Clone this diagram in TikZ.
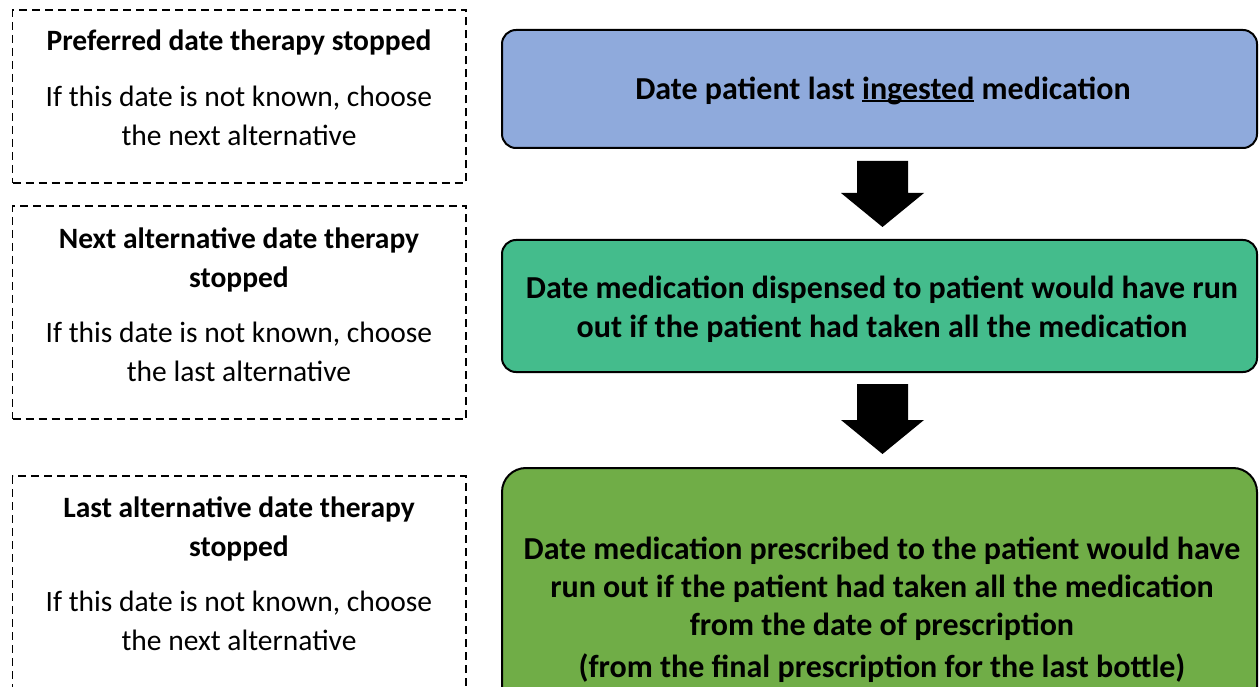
\documentclass[tikz,border=0pt]{standalone}
\usepackage{fontspec}
\setmainfont{Carlito}
\usetikzlibrary{calc}
\definecolor{boxblue}{HTML}{8FAADC}
\definecolor{boxteal}{HTML}{44BC8C}
\definecolor{boxgreen}{HTML}{70AD47}
\newcommand\blockarrow[2]{%
  \fill ($(#1)+(-25.5,0)$) -- ($(#1)+(25.5,0)$) -- ($(#2)+(25.5,-34)$) -- ($(#2)+(41.5,-34)$)
    -- (#2) -- ($(#2)+(-41.5,-34)$) -- ($(#2)+(-25.5,-34)$) -- cycle;}
\newcommand\myul[1]{\setbox0\hbox{#1}\rlap{\rule[-2.6pt]{\wd0}{1.8pt}}#1}
\begin{document}
\begin{tikzpicture}[x=1pt,y=-1pt,
  dbox/.style={draw=black, line width=1.6pt, dash pattern=on 8pt off 5pt,
    minimum width=453.5pt, inner sep=0pt},
  rbox/.style={draw=black, line width=2pt, rounded corners=14pt,
    minimum width=755pt, inner sep=0pt},
  ltext/.style={align=center, inner sep=0pt, font=\fontsize{29.5}{39}\selectfont},
  rtext/.style={align=center, inner sep=0pt, font=\bfseries\fontsize{32}{39}\selectfont},
]
\useasboundingbox (0,0) rectangle (1259,687);
\clip (0,0) rectangle (1259,687);
% left dashed boxes
\node[dbox, minimum height=173pt] (l1) at (239.25,96.5) {};
\node[dbox, minimum height=213pt] (l2) at (239.25,312.5) {};
\node[dbox, minimum height=224pt] (l3) at (239.25,588) {};
\node[ltext] (t1) at (239,87.5) {\textbf{Preferred date therapy stopped}\\[17pt]If this date is not known, choose\\the next alternative};
\node[ltext] (t2) at (239,304.5) {\textbf{Next alternative date therapy}\\\textbf{stopped}\\[16pt]If this date is not known, choose\\the last alternative};
\node[ltext] (t3) at (239,573.5) {\textbf{Last alternative date therapy}\\\textbf{stopped}\\[16pt]If this date is not known, choose\\the next alternative};
% right boxes
\node[rbox, fill=boxblue, minimum height=118pt] (A) at (879.5,89) {};
\node[rbox, fill=boxteal, minimum height=132pt] (B) at (879.5,306) {};
\node[rbox, fill=boxgreen, minimum height=252pt, rounded corners=24pt] (C) at (879.5,594) {};
\node[rtext] (tA) at (883,91) {Date patient last \myul{ingested} medication};
\node[rtext] (tB) at (882,309.5) {Date medication dispensed to patient would have run\\out if the patient had taken all the medication};
\node[rtext, font=\bfseries\fontsize{32}{38}\selectfont] (tC) at (882,609.5) {Date medication prescribed to the patient would have\\run out if the patient had taken all the medication\\from the date of prescription\\[4pt](from the final prescription for the last bottle)};
% block arrows
\coordinate (a1s) at ($(A.south)+(3,12)$);
\coordinate (a1e) at ($(B.north)+(3,-12)$);
\coordinate (a2s) at ($(B.south)+(3,11)$);
\coordinate (a2e) at ($(C.north)+(3,-13)$);
\blockarrow{a1s}{a1e}
\blockarrow{a2s}{a2e}
\end{tikzpicture}
\end{document}
